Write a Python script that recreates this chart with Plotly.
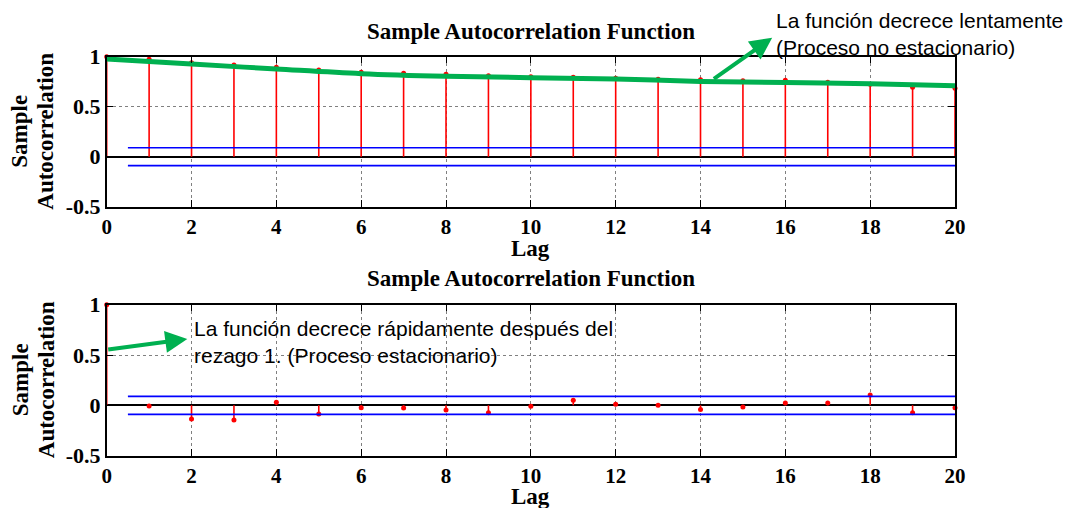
import plotly.graph_objects as go

# ---------------- data ----------------
lags = list(range(0, 21))
acf_nonstationary = [1.0, 0.974, 0.94, 0.917, 0.894, 0.867, 0.845, 0.834, 0.825, 0.81, 0.80,
                     0.795, 0.785, 0.775, 0.77, 0.76, 0.765, 0.745, 0.725, 0.695, 0.685]
acf_stationary = [1.0, -0.006, -0.136, -0.146, 0.03, -0.086, -0.023, -0.027, -0.047, -0.073, -0.01,
                  0.05, 0.01, 0.002, -0.04, -0.016, 0.024, 0.024, 0.104, -0.073, -0.023]
conf_bound = 0.089
conf_x = [0.5, 20]
# hand-drawn green trend stroke over the top plot
trend_x = [0, 2, 4, 6, 8, 10, 12, 14, 16, 18, 20]
trend_y = [0.977, 0.927, 0.877, 0.83, 0.804, 0.79, 0.777, 0.753, 0.743, 0.73, 0.71]

x_ticks = list(range(0, 21, 2))
y_ticks = [-0.5, 0, 0.5, 1]
y_ticktext = ["-0.5", "0", "0.5", "1"]
title_text = "Sample Autocorrelation Function"
note_top = "La función decrece lentamente<br>(Proceso no estacionario)"
note_bottom = "La función decrece rápidamente después del<br>rezago 1. (Proceso estacionario)"

SERIF = "Liberation Serif, Times New Roman, serif"
SANS = "Liberation Sans, Arial, sans-serif"
W, H = 1073, 508
X0, X1 = 106.7, 955.0


def stems(xs, ys):
    sx, sy = [], []
    for x, y in zip(xs, ys):
        sx += [x, x, None]
        sy += [0, y, None]
    return sx, sy


fig = go.Figure()

for ax, data in (("", acf_nonstationary), ("2", acf_stationary)):
    sx, sy = stems(lags, data)
    fig.add_trace(go.Scatter(x=sx, y=sy, mode="lines", line=dict(color="red", width=1.6),
                             xaxis="x" + ax, yaxis="y" + ax, hoverinfo="skip", showlegend=False))
    fig.add_trace(go.Scatter(x=lags, y=data, mode="markers", marker=dict(color="red", size=5),
                             xaxis="x" + ax, yaxis="y" + ax, cliponaxis=False, showlegend=False))
    for b in (conf_bound, -conf_bound):
        fig.add_trace(go.Scatter(x=conf_x, y=[b, b], mode="lines", line=dict(color="blue", width=1.6),
                                 xaxis="x" + ax, yaxis="y" + ax, showlegend=False))

fig.add_trace(go.Scatter(x=trend_x, y=trend_y, mode="lines", line=dict(color="#00B050", width=5, shape="spline"),
                         xaxis="x", yaxis="y", cliponaxis=False, showlegend=False))


def xaxis_def(anchor):
    return dict(domain=[X0 / W, X1 / W], range=[0, 20], anchor=anchor, automargin=False,
                tickvals=x_ticks, ticks="inside", ticklen=7, tickwidth=1.3, tickcolor="black",
                showline=True, linecolor="black", linewidth=1.5, mirror="allticks",
                showgrid=True, gridcolor="#808080", griddash="dot", gridwidth=1,
                zeroline=False,
                tickfont=dict(family=SERIF, size=21, color="black", weight="bold"))


def yaxis_def(anchor, top_px, bot_px):
    return dict(domain=[1 - bot_px / H, 1 - top_px / H], range=[-0.5, 1], anchor=anchor, automargin=False,
                tickvals=y_ticks, ticktext=y_ticktext,
                ticks="inside", ticklen=7, tickwidth=1.3, tickcolor="black",
                showline=True, linecolor="black", linewidth=1.5, mirror="allticks",
                showgrid=True, gridcolor="#808080", griddash="dot", gridwidth=1,
                zeroline=True, zerolinecolor="black", zerolinewidth=1.5,
                tickfont=dict(family=SERIF, size=22, color="black", weight="bold"))


fig.update_layout(
    width=W, height=H, autosize=False,
    margin=dict(l=0, r=0, t=0, b=0, autoexpand=False),
    paper_bgcolor="white", plot_bgcolor="white",
    xaxis=xaxis_def("y"), yaxis=yaxis_def("x", 56.7, 206.7),
    xaxis2=xaxis_def("y2"), yaxis2=yaxis_def("x2", 304.7, 455.7),
    showlegend=False,
)

annots = []
xc = (X0 + X1) / 2 / W
bold23 = dict(family=SERIF, size=23, color="black", weight="bold")
for title_y, lag_y, ymid in ((31, 248, 131.7), (278, 496, 380.2)):
    annots.append(dict(text=title_text, x=xc, y=1 - title_y / H, xref="paper", yref="paper",
                       showarrow=False, xanchor="center", yanchor="middle", font=bold23))
    annots.append(dict(text="Lag", x=xc, y=1 - lag_y / H, xref="paper", yref="paper",
                       showarrow=False, xanchor="center", yanchor="middle", font=bold23))
    annots.append(dict(text="Sample", x=20 / W, y=1 - ymid / H, xref="paper", yref="paper",
                       showarrow=False, xanchor="center", yanchor="middle", textangle=-90, font=bold23))
    annots.append(dict(text="Autocorrelation", x=46 / W, y=1 - ymid / H, xref="paper", yref="paper",
                       showarrow=False, xanchor="center", yanchor="middle", textangle=-90, font=bold23))

annots.append(dict(text=note_top, x=774 / W, y=1 - 34 / H, xref="paper", yref="paper",
                   showarrow=False, xanchor="left", yanchor="middle", align="left",
                   font=dict(family=SANS, size=21, color="black")))
annots.append(dict(text=note_bottom, x=192 / W, y=1 - 342 / H, xref="paper", yref="paper",
                   showarrow=False, xanchor="left", yanchor="middle", align="left",
                   font=dict(family=SANS, size=21, color="black")))

# arrows
annots.append(dict(text="", x=15.69, y=1.19, xref="x", yref="y", ax=14.28, ay=0.767, axref="x", ayref="y",
                   showarrow=True, arrowhead=2, arrowsize=1.1, arrowwidth=4, arrowcolor="#00B050"))
annots.append(dict(text="", x=1.9, y=0.66, xref="x2", yref="y2", ax=0.0, ay=0.554, axref="x2", ayref="y2",
                   showarrow=True, arrowhead=2, arrowsize=1.1, arrowwidth=4, arrowcolor="#00B050"))

fig.update_layout(annotations=annots)

fig.write_html("out.html")
